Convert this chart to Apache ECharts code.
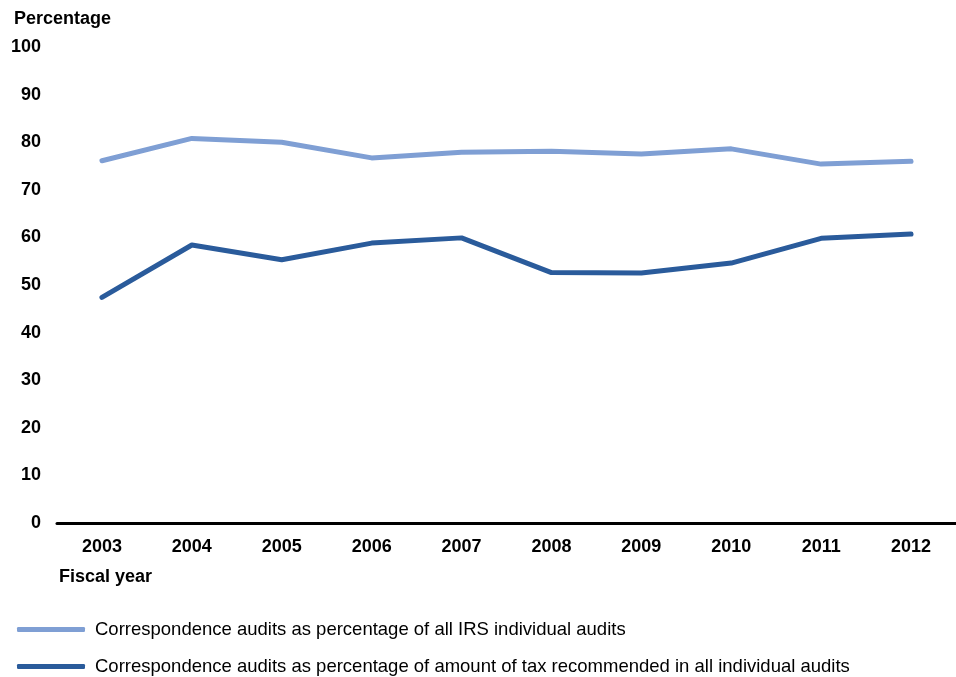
<!DOCTYPE html>
<html><head><meta charset="utf-8">
<script src="https://cdn.jsdelivr.net/npm/echarts@6/dist/echarts.min.js"></script>
<style>html,body{margin:0;padding:0;background:#fff}#c{width:956px;height:677px}</style>
</head><body><div id="c"></div>
<script>
const years = ['2003','2004','2005','2006','2007','2008','2009','2010','2011','2012'];
const allAudits = [76.1, 80.8, 80.0, 76.7, 77.9, 78.1, 77.5, 78.6, 75.4, 76.0];
const taxRecommended = [47.4, 58.4, 55.3, 58.8, 59.9, 52.6, 52.5, 54.6, 59.8, 60.7];
const yTicks = [0, 100, 10];
const nameA = 'Correspondence audits as percentage of all IRS individual audits';
const nameB = 'Correspondence audits as percentage of amount of tax recommended in all individual audits';

const font = 'Liberation Sans, Arial, sans-serif';
const legendBase = {
  orient: 'horizontal', left: 12,
  itemWidth: 68, itemHeight: 5, icon: 'roundRect',
  textStyle: {fontFamily: font, fontSize: 18.5, color: '#000', padding: [0,0,0,5]}
};
const chart = echarts.init(document.getElementById('c'));
chart.setOption({
  animation: false,
  title: [
    {text: 'Percentage', left: 9, top: 5, textStyle: {fontFamily: font, fontSize: 18, fontWeight: 'bold', color: '#000'}},
    {text: 'Fiscal year', left: 54, top: 563, textStyle: {fontFamily: font, fontSize: 18, fontWeight: 'bold', color: '#000'}}
  ],
  grid: {left: 57, right: -4, top: 47, bottom: 154},
  legend: [
    Object.assign({}, legendBase, {top: 615, data: [nameA]}),
    Object.assign({}, legendBase, {top: 652, data: [nameB]})
  ],
  xAxis: {
    type: 'category', data: years, boundaryGap: true,
    axisLine: {lineStyle: {color: '#000', width: 3}},
    axisTick: {show: false},
    axisLabel: {fontFamily: font, fontSize: 18, fontWeight: 'bold', color: '#000', margin: 15}
  },
  yAxis: {
    type: 'value', min: yTicks[0], max: yTicks[1], interval: yTicks[2],
    axisLine: {show: false}, axisTick: {show: false}, splitLine: {show: false},
    axisLabel: {fontFamily: font, fontSize: 18, fontWeight: 'bold', color: '#000', margin: 16}
  },
  series: [
    {name: nameA, type: 'line', data: allAudits, symbol: 'none', color: '#7f9fd4',
     lineStyle: {width: 5, color: '#7f9fd4', cap: 'round', join: 'round'}},
    {name: nameB, type: 'line', data: taxRecommended, symbol: 'none', color: '#2a5b9b',
     lineStyle: {width: 5, color: '#2a5b9b', cap: 'round', join: 'round'}}
  ]
});
</script></body></html>
